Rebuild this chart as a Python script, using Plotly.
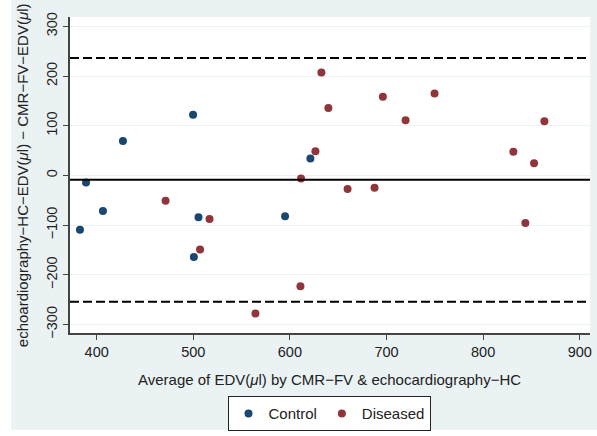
import plotly.graph_objects as go

# Control group
control_avg = [382.7, 389.0, 406.5, 427.2, 499.8, 505.4, 500.6, 595.0, 621.2]
control_diff = [-109.0, -14.0, -71.6, 69.6, 122.5, -84.0, -164.0, -82.0, 34.4]

# Diseased group
diseased_avg = [471.3, 516.8, 507.0, 564.3, 610.9, 611.5, 632.6, 639.8, 626.4,
                659.7, 687.6, 696.2, 719.7, 749.7, 831.3, 852.7, 863.4, 843.7]
diseased_diff = [-51.0, -87.5, -149.0, -278.0, -222.7, -6.0, 207.4, 135.8, 49.0,
                 -27.2, -24.6, 158.3, 111.3, 165.0, 47.7, 24.5, 109.3, -95.4]

mean_diff = -8.6
loa_upper = 236.7
loa_lower = -253.9

x_ticks = [400, 500, 600, 700, 800, 900]
y_ticks = [-300, -200, -100, 0, 100, 200, 300]

BLUE = "#1A476F"
RED = "#90353B"
BG = "#EAF2F3"
FONT = "Liberation Sans, Arial, sans-serif"

fig = go.Figure()
fig.add_trace(go.Scatter(x=control_avg, y=control_diff, mode="markers", name="Control",
                         marker=dict(color=BLUE, size=8, line=dict(width=0))))
fig.add_trace(go.Scatter(x=diseased_avg, y=diseased_diff, mode="markers", name="Diseased",
                         marker=dict(color=RED, size=8, line=dict(width=0))))

# outer light background panel
fig.add_shape(type="rect", xref="paper", yref="paper",
              x0=(11 - 70) / 522, x1=(600 - 70) / 522,
              y0=(337 - 435) / 320, y1=(337 + 3) / 320,
              fillcolor=BG, line=dict(width=0), layer="below")
# white plot area
fig.add_shape(type="rect", xref="paper", yref="paper", x0=0, x1=1, y0=0, y1=1,
              fillcolor="white", line=dict(width=0), layer="below")

for yv, dash, w in [(mean_diff, "solid", 2), (loa_upper, "9px,4px", 2), (loa_lower, "9px,4px", 2)]:
    fig.add_shape(type="line", xref="paper", yref="y", x0=0, x1=1, y0=yv, y1=yv,
                  line=dict(color="black", width=w, dash=dash))

fig.add_annotation(text="Average of EDV(<i>μ</i>l) by CMR−FV & echocardiography−HC",
                   xref="paper", yref="paper", x=(330 - 70) / 522, y=(337 - 384) / 320,
                   showarrow=False, font=dict(size=15, color="#222"), xanchor="center", yanchor="middle")
fig.add_annotation(text="echoardiography−HC−EDV(<i>μ</i>l) − CMR−FV−EDV(<i>μ</i>l)",
                   xref="paper", yref="paper", x=(22 - 70) / 522, y=0.5, textangle=-90,
                   showarrow=False, font=dict(size=15, color="#222"), xanchor="center", yanchor="middle")

fig.update_layout(
    width=597, height=436,
    margin=dict(l=70, r=5, t=17, b=99),
    paper_bgcolor="white", plot_bgcolor="rgba(0,0,0,0)",
    font=dict(family=FONT, size=14.5, color="#222"),
    showlegend=True,
    legend=dict(orientation="h", x=(330 - 70) / 522, xanchor="center",
                y=(337 - 401) / 320, yanchor="top",
                bgcolor="white", bordercolor="#222", borderwidth=1,
                font=dict(size=15), itemwidth=30, tracegroupgap=0),
    xaxis=dict(range=[372.4, 910.6], tickvals=x_ticks, showgrid=False, zeroline=False,
               showline=True, linecolor="#444", linewidth=1.5,
               ticks="outside", ticklen=5, tickcolor="#444", tickwidth=1.2),
    yaxis=dict(range=[-317, 319], tickvals=y_ticks, showgrid=True, gridcolor=BG, gridwidth=1,
               zeroline=False, showline=True, linecolor="#444", linewidth=1.5,
               ticks="outside", ticklen=5, tickcolor="#444", tickwidth=1.2, tickangle=-90),
)

fig.write_html("out.html")
